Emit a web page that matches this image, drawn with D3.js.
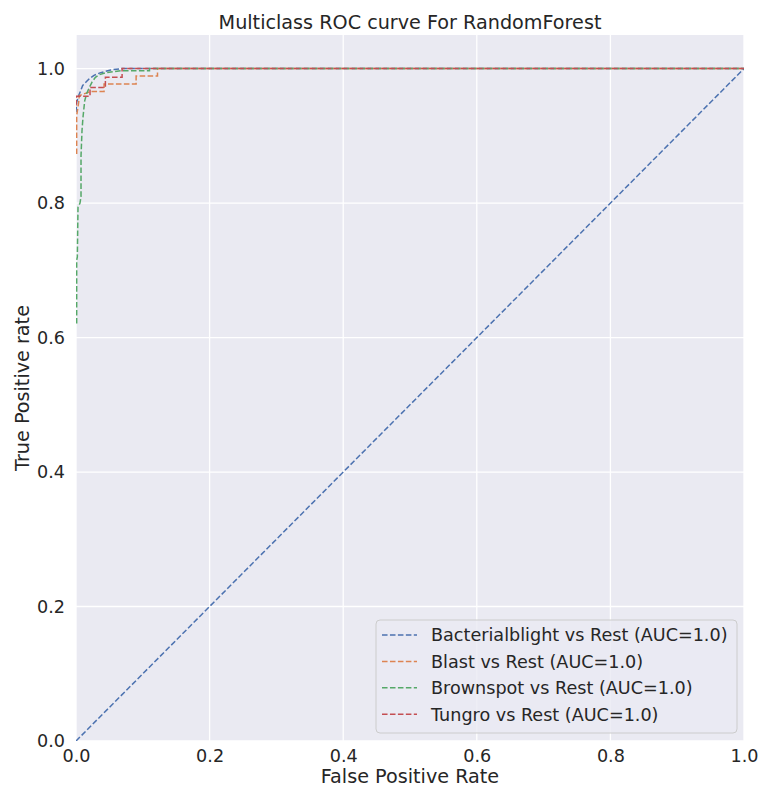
<!DOCTYPE html>
<html>
<head>
<meta charset="utf-8">
<script src="https://cdn.jsdelivr.net/npm/d3@7"></script>
<style>
  html, body { margin: 0; padding: 0; background: #ffffff; }
  svg { display: block; font-family: "DejaVu Sans", sans-serif; }
</style>
</head>
<body>
<svg id="chart" width="758" height="789"></svg>
<script>
// ---- Data ----
const seriesNames = ["Bacterialblight vs Rest (AUC=1.0)", "Blast vs Rest (AUC=1.0)", "Brownspot vs Rest (AUC=1.0)", "Tungro vs Rest (AUC=1.0)"];
const seriesColors = ["#4C72B0", "#DD8452", "#55A868", "#C44E52"];

const bacterialblightFpr = [0, 0.001, 0.004, 0.007, 0.010, 0.015, 0.020, 0.027, 0.037, 0.052, 0.068, 1];
const bacterialblightTpr = [0.935, 0.95, 0.96, 0.967, 0.975, 0.98, 0.985, 0.99, 0.994, 0.998, 1.0, 1.0];

const blastFpr = [0, 0.001, 0.001, 0.004, 0.005, 0.022, 0.042, 0.042, 0.09, 0.09, 0.122, 0.122, 1];
const blastTpr = [0.874, 0.874, 0.93, 0.95, 0.96, 0.966, 0.966, 0.977, 0.977, 0.989, 0.989, 1.0, 1.0];

const brownspotFpr = [0.001, 0.001, 0.002, 0.003, 0.006, 0.0075, 0.0075, 0.009, 0.0105, 0.013, 0.016, 0.020, 0.024, 0.029, 0.035, 0.045, 0.068, 0.11, 0.11, 1];
const brownspotTpr = [0.621, 0.715, 0.72, 0.794, 0.80, 0.81, 0.87, 0.908, 0.928, 0.952, 0.963, 0.972, 0.98, 0.987, 0.991, 0.994, 0.997, 0.997, 1.0, 1.0];

const tungroFpr = [0, 0.001, 0.021, 0.021, 0.044, 0.044, 0.069, 0.069, 1];
const tungroTpr = [0.945, 0.959, 0.959, 0.972, 0.972, 0.987, 0.987, 1.0, 1.0];

const chanceFpr = [0, 1];
const chanceTpr = [0, 1];

const xTicks = [0, 0.2, 0.4, 0.6, 0.8, 1.0];
const yTicks = [0, 0.2, 0.4, 0.6, 0.8, 1.0];

const titleText = "Multiclass ROC curve For RandomForest";
const xLabelText = "False Positive Rate";
const yLabelText = "True Positive rate";

// ---- Build ----
const series = [
  { name: seriesNames[0], color: seriesColors[0], fpr: bacterialblightFpr, tpr: bacterialblightTpr },
  { name: seriesNames[1], color: seriesColors[1], fpr: blastFpr, tpr: blastTpr },
  { name: seriesNames[2], color: seriesColors[2], fpr: brownspotFpr, tpr: brownspotTpr },
  { name: seriesNames[3], color: seriesColors[3], fpr: tungroFpr, tpr: tungroTpr }
];

const svg = d3.select("#chart");
const margin = { left: 76, right: 14, top: 35, bottom: 48 };
const W = 758, H = 789;
const plotW = W - margin.left - margin.right;
const plotH = H - margin.top - margin.bottom;
const textColor = "#262626";
const tickFont = "17.6px", labelFont = "19.2px";
const dash = "5.55,2.4";

const x = d3.scaleLinear().domain([0, 1]).range([margin.left, margin.left + plotW]);
const y = d3.scaleLinear().domain([0, 1.05]).range([margin.top + plotH, margin.top]);

// background
svg.append("rect")
  .attr("x", margin.left).attr("y", margin.top)
  .attr("width", plotW).attr("height", plotH)
  .attr("fill", "#EAEAF2");

svg.append("defs").append("clipPath").attr("id", "clip")
  .append("rect").attr("x", margin.left).attr("y", margin.top)
  .attr("width", plotW).attr("height", plotH);

// grid
const grid = svg.append("g");
grid.selectAll("line.gx").data(xTicks).enter().append("line")
  .attr("x1", d => x(d)).attr("x2", d => x(d))
  .attr("y1", margin.top).attr("y2", margin.top + plotH)
  .attr("stroke", "#ffffff").attr("stroke-width", 1.3);
grid.selectAll("line.gy").data(yTicks).enter().append("line")
  .attr("y1", d => y(d)).attr("y2", d => y(d))
  .attr("x1", margin.left).attr("x2", margin.left + plotW)
  .attr("stroke", "#ffffff").attr("stroke-width", 1.3);

// axes (tick labels only)
const xAxis = d3.axisBottom(x).tickValues(xTicks).tickFormat(d3.format(".1f")).tickSize(0).tickPadding(9);
const yAxis = d3.axisLeft(y).tickValues(yTicks).tickFormat(d3.format(".1f")).tickSize(0).tickPadding(11);

const gx = svg.append("g").attr("transform", `translate(0,${margin.top + plotH})`).call(xAxis);
const gy = svg.append("g").attr("transform", `translate(${margin.left},0)`).call(yAxis);
[gx, gy].forEach(g => {
  g.select(".domain").remove();
  g.selectAll("text").attr("fill", textColor).style("font-size", tickFont).style("font-family", "DejaVu Sans");
});

// lines
const lineGen = d3.line().x(d => x(d[0])).y(d => y(d[1]));
const plotG = svg.append("g").attr("clip-path", "url(#clip)");

plotG.append("path")
  .datum(chanceFpr.map((f, i) => [f, chanceTpr[i]]))
  .attr("d", lineGen)
  .attr("fill", "none")
  .attr("stroke", seriesColors[0])
  .attr("stroke-width", 1.5)
  .attr("stroke-dasharray", dash);

series.forEach(s => {
  plotG.append("path")
    .datum(s.fpr.map((f, i) => [f, s.tpr[i]]))
    .attr("d", lineGen)
    .attr("fill", "none")
    .attr("stroke", s.color)
    .attr("stroke-width", 1.5)
    .attr("stroke-dasharray", dash);
});

// title & labels
svg.append("text").attr("x", margin.left + plotW / 2).attr("y", 29)
  .attr("text-anchor", "middle").attr("fill", textColor)
  .style("font-size", labelFont).text(titleText);

svg.append("text").attr("x", margin.left + plotW / 2).attr("y", 783)
  .attr("text-anchor", "middle").attr("fill", textColor)
  .style("font-size", labelFont).text(xLabelText);

svg.append("text")
  .attr("transform", `translate(29,${margin.top + plotH / 2}) rotate(-90)`)
  .attr("text-anchor", "middle").attr("fill", textColor)
  .style("font-size", labelFont).text(yLabelText);

// legend
const lg = svg.append("g");
const lgX = 376, lgY = 620, lgW = 361, lgH = 113;
lg.append("rect").attr("x", lgX).attr("y", lgY).attr("width", lgW).attr("height", lgH)
  .attr("rx", 4).attr("ry", 4)
  .attr("fill", "#EAEAF2").attr("fill-opacity", 0.8)
  .attr("stroke", "#cccccc").attr("stroke-width", 1);

series.forEach((s, i) => {
  const cy = 635 + i * 26.4;
  lg.append("line")
    .attr("x1", 382).attr("x2", 417).attr("y1", cy).attr("y2", cy)
    .attr("stroke", s.color).attr("stroke-width", 1.5)
    .attr("stroke-dasharray", dash);
  lg.append("text").attr("x", 431).attr("y", cy).attr("dy", "0.36em")
    .attr("fill", textColor).style("font-size", tickFont).text(s.name);
});
</script>
</body>
</html>
